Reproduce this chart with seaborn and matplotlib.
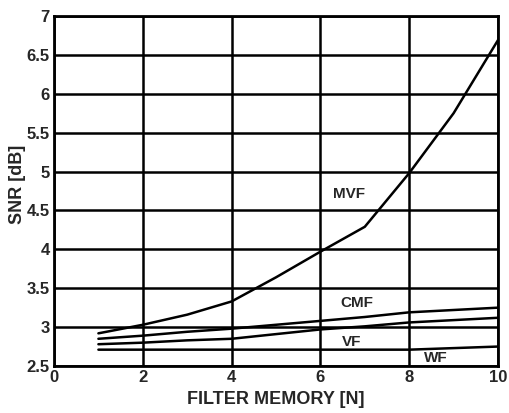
import pandas as pd
import matplotlib
matplotlib.use('Agg')
import matplotlib.pyplot as plt
import seaborn as sns

# Values
memory = [1, 2, 3, 4, 5, 6, 7, 8, 9, 10]
mvf = [2.92, 3.03, 3.16, 3.33, 3.64, 3.97, 4.29, 4.98, 5.75, 6.69]
cmf = [2.85, 2.89, 2.94, 2.98, 3.03, 3.08, 3.13, 3.19, 3.22, 3.25]
vf = [2.78, 2.80, 2.83, 2.85, 2.91, 2.97, 3.01, 3.06, 3.09, 3.12]
wf = [2.71, 2.71, 2.71, 2.71, 2.71, 2.71, 2.71, 2.71, 2.73, 2.75]

filters = ['MVF', 'CMF', 'VF', 'WF']
label_pos = {'MVF': (6.64, 4.71), 'CMF': (6.81, 3.31), 'VF': (6.70, 2.81), 'WF': (8.61, 2.60)}

x_ticks = [0, 2, 4, 6, 8, 10]
y_ticks = [2.5, 3, 3.5, 4, 4.5, 5, 5.5, 6, 6.5, 7]
y_tick_labels = ['2.5', '3', '3.5', '4', '4.5', '5', '5.5', '6', '6.5', '7']

# Long-form table for seaborn
data = pd.DataFrame({
    'N': memory * 4,
    'SNR': mvf + cmf + vf + wf,
    'Filter': sum([[f] * len(memory) for f in filters], []),
})

sns.set_style('white')
plt.rcParams['font.family'] = ['Liberation Sans', 'DejaVu Sans']
plt.rcParams['font.weight'] = 'bold'

fig = plt.figure(figsize=(5.09, 4.13), dpi=100)
ax = fig.add_axes([54 / 509, 1 - 366 / 413, 444 / 509, 350 / 413])

sns.lineplot(data=data, x='N', y='SNR', hue='Filter', hue_order=filters,
             palette=['black'] * 4, linewidth=1.8, legend=False, ax=ax, zorder=3)

# Labels next to the curves
for f in filters:
    ax.text(label_pos[f][0], label_pos[f][1], f, ha='center', va='center',
            fontsize=11, fontweight='bold', zorder=4)

ax.set_xlim(0, 10)
ax.set_ylim(2.5, 7)
ax.set_xticks(x_ticks)
ax.set_yticks(y_ticks)
ax.set_yticklabels(y_tick_labels)
ax.tick_params(axis='both', length=0, labelsize=12, pad=3)
for lab in ax.get_xticklabels() + ax.get_yticklabels():
    lab.set_fontweight('bold')

ax.grid(True, color='black', linewidth=1.8, zorder=1)
ax.set_axisbelow(True)
for s in ax.spines.values():
    s.set_color('black')
    s.set_linewidth(2)

ax.set_xlabel('FILTER MEMORY [N]', fontsize=13, fontweight='bold', labelpad=4)
ax.set_ylabel('SNR [dB]', fontsize=13, fontweight='bold')
ax.yaxis.set_label_coords(-0.064, 0.52)

plt.savefig('out.png', dpi=100)
